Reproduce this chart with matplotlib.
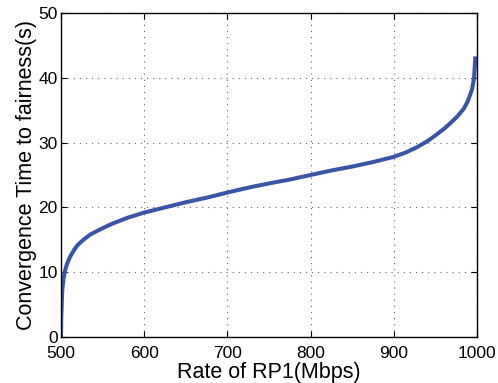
import matplotlib
matplotlib.use("Agg")
import matplotlib.pyplot as plt

plt.rcParams['font.family'] = ['Liberation Sans', 'DejaVu Sans']

# values
rate = [500, 500.3, 501, 501.6, 503, 505, 507, 511, 516, 520, 527, 535, 547, 560,
        580, 600, 625, 650, 675, 700, 727, 750, 775, 800, 825, 850, 875, 900,
        915, 928, 940, 950, 960, 968, 976, 984, 989, 994, 996.5, 998]
conv_time = [0, 3.0, 5.5, 7.3, 9.0, 10.3, 11.2, 12.4, 13.5, 14.2, 15.0, 15.8, 16.6, 17.4,
             18.4, 19.2, 20.0, 20.8, 21.5, 22.3, 23.1, 23.7, 24.3, 25.0, 25.7, 26.3, 27.0, 27.8,
             28.5, 29.3, 30.2, 31.1, 32.1, 33.0, 34.0, 35.2, 36.4, 38.2, 40.0, 43.3]

fig = plt.figure(figsize=(4.98, 3.83), dpi=100)
ax = fig.add_axes([61 / 498, 1 - 337 / 383, (477 - 61) / 498, (337 - 13) / 383])

ax.plot(rate, conv_time, color='#3a55a8', linewidth=2.9, solid_capstyle='butt')

ax.set_xlim(500, 1000)
ax.set_ylim(0, 50)
ax.set_xticks([500, 600, 700, 800, 900, 1000])
ax.set_yticks([0, 10, 20, 30, 40, 50])
ax.grid(True, linestyle=(0, (1, 4.5)), color='#666666', linewidth=0.8)
ax.tick_params(direction='in', top=True, right=True, labelsize=12.5, length=4)
ax.tick_params(axis='x', pad=6.5)
ax.tick_params(axis='y', pad=2.5)
for s in ax.spines.values():
    s.set_linewidth(1.0)

ax.set_xlabel('Rate of RP1(Mbps)', fontsize=15.5, labelpad=0.5)
ax.set_ylabel('Convergence Time to fairness(s)', fontsize=15.5, labelpad=1)

fig.savefig('out.png', dpi=100)
